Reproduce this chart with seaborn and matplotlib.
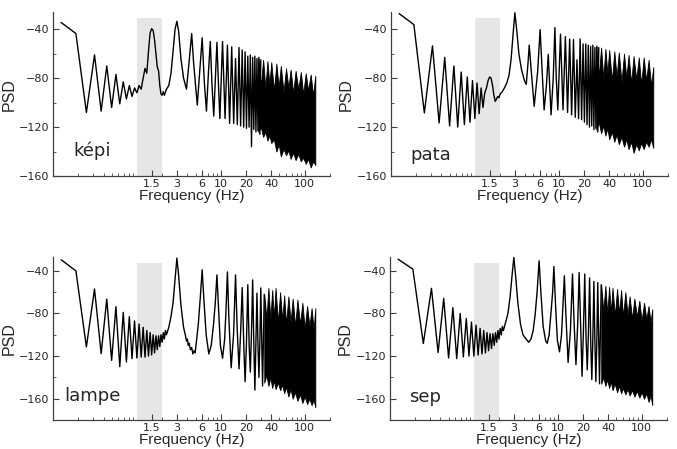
import numpy as np
import pandas as pd
import matplotlib
matplotlib.use("Agg")
import matplotlib.pyplot as plt
import seaborn as sns
from matplotlib.ticker import FixedLocator, LogLocator, MultipleLocator, NullFormatter

# frequency bins below 1 Hz (shared by all four words)
low_f = [0.125, 0.1875, 0.25, 0.3125, 0.375, 0.4375, 0.5, 0.5625,
         0.625, 0.6875, 0.75, 0.8125, 0.875, 0.9375, 1.0]

# ---- képi ----
kepi_low = [-34.5, -43.5, -108, -61, -107, -70, -104, -77, -101, -83, -97, -86, -95, -88, -92]
kepi_f = [1.0625, 1.125, 1.1875, 1.25, 1.3125, 1.375, 1.4375, 1.5,
          1.5625, 1.625, 1.6875, 1.75, 1.8125, 1.875, 1.9375, 2.0,
          2.0625, 2.125, 2.25, 2.4, 2.55, 2.7, 2.85, 3.0,
          3.15, 3.35, 3.6, 3.9, 4.2, 4.5, 4.75, 5.25,
          5.7, 6.0, 6.35, 6.75, 7.15, 7.5, 7.85, 8.25,
          8.65, 9.0, 9.35, 9.75,
          10.5, 11.25, 12.0, 12.75, 13.5, 14.25, 15.0, 15.75,
          16.5, 17.25, 18.0, 18.75, 19.5, 20.25, 21.0, 21.75,
          22.5, 23.25, 24.0, 24.75, 25.5, 26.25, 27.0, 27.75,
          28.5, 29.25, 30.0]
kepi_psd = [-86, -89, -80, -72, -76, -58, -43, -39.5,
            -41, -49, -60, -71, -74, -86, -93, -94,
            -91, -94, -89, -86, -76, -58, -40, -33.5,
            -42, -64, -80, -89, -66, -43.5, -68, -102,
            -68, -47, -82, -107, -74, -50, -85, -111,
            -78, -50.7, -82, -113,
            -50, -113, -53, -117, -54.4, -117, -64, -118,
            -55, -119, -57, -120, -58.5, -121, -62, -120,
            -61, -136, -63, -122, -62, -124, -64, -123,
            -63, -126, -65]

# ---- pata ----
pata_low = [-27.2, -36.2, -108.4, -53.6, -116.6, -63, -119, -70, -120, -75, -118, -79, -116, -82, -113]
pata_f = [1.0625, 1.125, 1.1875, 1.25, 1.3125, 1.375, 1.4375, 1.5,
          1.5625, 1.625, 1.6875, 1.75, 1.8125, 1.875, 1.9375, 2.0,
          2.125, 2.25, 2.4, 2.55, 2.7, 2.85, 3.0,
          3.15, 3.35, 3.6, 3.9, 4.1, 4.3, 4.45, 4.65,
          5.1, 5.6, 6.0, 6.35, 6.7, 7.15, 7.5, 7.85,
          8.1, 8.6, 9.0, 9.35, 9.75,
          10.5, 11.25, 12.0, 12.75, 13.5, 14.25, 15.0, 15.75,
          16.5, 17.25, 18.0, 18.75, 19.5, 20.25, 21.0, 21.75,
          22.5, 23.25, 24.0, 24.75, 25.5, 26.25, 27.0, 27.75,
          28.5, 29.25, 30.0]
pata_psd = [-84, -109, -88, -104, -92, -88, -82, -79,
            -80, -86, -94, -99, -97, -95, -96, -93,
            -91, -88, -84, -78, -65, -45, -26.5,
            -40, -60, -73, -82, -85, -68, -53, -70,
            -103, -75, -40.3, -75, -106, -85, -60.4, -90,
            -110, -80, -38.6, -80, -106,
            -44, -106, -46, -108, -48, -110, -48.5, -112,
            -65, -113, -48, -114, -52, -116, -52, -118,
            -53, -120, -54, -119, -53, -122, -55, -121,
            -54, -124, -55]

# ---- lampe ----
lampe_low = [-29.6, -40, -111.4, -57, -117.7, -66.4, -124, -73.6, -130, -79, -125.5, -83, -122.4, -87, -121.8]
lampe_f = [1.0625, 1.125, 1.1875, 1.25, 1.3125, 1.375, 1.4375, 1.5,
           1.5625, 1.625, 1.6875, 1.75, 1.8125, 1.875, 1.9375, 2.0,
           2.0625, 2.125, 2.1875, 2.25, 2.4, 2.55, 2.7, 2.85,
           3.0, 3.15, 3.35, 3.6, 3.8, 3.9, 4.0, 4.1,
           4.2, 4.35, 4.5, 4.65, 4.8, 4.95, 5.1, 5.4,
           5.7, 6.0, 6.3, 6.7, 7.2, 7.7, 8.2, 8.6,
           9.0, 9.4, 9.9, 10.5, 11.1, 11.5, 12.0, 12.5,
           13.3, 14.2, 15.0, 15.7, 16.5, 17.3, 18.0, 18.9,
           19.5, 20.2, 21.0, 21.8, 22.5, 23.2, 24.0, 24.8,
           25.5, 26.2, 27.0, 27.8, 28.5, 29.2, 30.0, 31.5,
           33.0]
lampe_psd = [-90, -121, -93, -121, -96, -120, -98, -119,
             -100, -117, -101, -114, -101, -111, -100, -107,
             -98, -104, -96, -100, -93, -83, -70, -48,
             -28, -45, -72, -93, -101, -106, -104, -110,
             -108, -114, -112, -118, -115, -117, -108, -90,
             -65, -39, -68, -100, -118, -110, -90, -70,
             -43.8, -75, -110, -122, -105, -80, -41, -85,
             -131, -100, -43.8, -95, -132, -95, -55.7, -115,
             -144, -110, -53, -110, -135, -100, -48.5, -110,
             -152, -110, -61, -110, -140, -110, -56, -148,
             -62]

# ---- sep ----
sep_low = [-29, -38.4, -108.2, -56.4, -116.7, -65.8, -121.8, -74.6, -122.4, -80, -120.8, -84.7, -120, -88, -120]
sep_f = [1.0625, 1.125, 1.1875, 1.25, 1.3125, 1.375, 1.4375, 1.5,
         1.5625, 1.625, 1.6875, 1.75, 1.8125, 1.875, 1.9375, 2.0,
         2.0625, 2.125, 2.1875, 2.25,
         2.4, 2.55, 2.7, 2.85, 3.0, 3.15, 3.35, 3.6,
         3.85, 4.2, 4.5, 4.8, 5.1, 5.4, 5.7, 6.0,
         6.3, 6.7, 7.2, 7.5, 7.9, 8.3, 8.7, 9.0,
         9.4, 9.9, 10.5, 11.1, 11.5, 12.0, 12.5, 13.3,
         14.2, 15.0, 15.7, 16.5, 17.3, 18.0, 18.9, 19.5,
         20.2, 21.0, 21.8, 22.5, 23.2, 24.0, 24.8, 25.5,
         26.2, 27.0, 27.8, 28.5, 29.2, 30.0, 31.5, 33.0]
sep_psd = [-91, -119, -94, -118, -96, -117, -98, -115,
           -99, -113, -99, -110, -98, -107, -96, -104,
           -94, -100, -92, -96,
           -88, -80, -65, -45, -27.4, -45, -70, -90,
           -100, -104, -107, -104, -96, -80, -58, -30.6,
           -60, -92, -106, -108, -100, -80, -60, -36,
           -70, -105, -116, -100, -75, -44.7, -80, -126,
           -95, -43, -90, -128, -90, -41.6, -100, -139,
           -100, -43, -105, -133, -100, -46.7, -110, -142,
           -105, -50, -110, -144, -110, -51, -146, -53]

# dense high-frequency part: top and bottom edges of the black mass
band_f_a = [28, 30, 32, 34, 36, 38, 40, 43, 46, 49, 52, 56, 60, 64, 68,
            73, 78, 84, 90, 96, 103, 110, 118, 126, 134]
band_f_b = [33, 35, 37, 39, 41, 43, 45, 48, 51, 54, 57, 60, 64, 68, 72,
            77, 82, 88, 94, 100, 107, 114, 121, 128, 134]

kepi_hi = [-64, -86, -65, -88, -66, -85, -67, -90, -68, -87, -70, -91, -72, -88, -73,
           -92, -74, -89, -75, -93, -76, -90, -77, -94, -78]
kepi_lo = [-124, -120, -128, -124, -131, -127, -133, -130, -140, -134, -144, -138, -143, -139, -146,
           -141, -147, -142, -148, -145, -150, -146, -153, -148, -151]
pata_hi = [-54, -78, -55, -80, -56, -76, -57, -82, -58, -79, -59, -83, -60, -80, -61,
           -84, -62, -81, -63, -85, -63, -82, -65, -86, -71]
pata_lo = [-122, -116, -125, -119, -127, -121, -130, -124, -132, -126, -134, -128, -136, -130, -138,
           -132, -141, -134, -139, -133, -138, -132, -136, -130, -137]
lampe_hi = [-62, -85, -56, -86, -58, -84, -56, -88, -60, -86, -63, -90, -64, -88, -66,
            -92, -67, -90, -70, -94, -73, -92, -75, -95, -75]
lampe_lo = [-145, -138, -148, -140, -150, -143, -151, -145, -152, -147, -155, -149, -158, -151, -160,
            -154, -162, -156, -164, -158, -165, -160, -166, -161, -168]
sep_hi = [-53, -78, -54, -80, -55, -79, -56, -82, -57, -80, -58, -83, -60, -81, -64,
          -85, -66, -83, -68, -87, -70, -85, -73, -88, -76]
sep_lo = [-146, -140, -148, -142, -150, -144, -152, -146, -154, -148, -155, -150, -156, -151, -157,
          -152, -158, -153, -159, -154, -160, -155, -163, -157, -166]

xticks = [1.5, 3, 6, 10, 20, 40, 100]
xtick_labels = ["1.5", "3", "6", "10", "20", "40", "100"]
yticks = [-40, -80, -120, -160]

sns.set_style("ticks")
plt.rcParams["font.family"] = ["DejaVu Sans"]

fig = plt.figure(figsize=(6.77, 4.49), dpi=100)

panels = [
    ("képi", kepi_low, kepi_f, kepi_psd, band_f_a, kepi_hi, kepi_lo,
     (-160, -26), -31, [0.0783, 0.608, 0.409, 0.365], (0.075, 0.12)),
    ("pata", pata_low, pata_f, pata_psd, band_f_a, pata_hi, pata_lo,
     (-160, -26), -31, [0.5775, 0.608, 0.409, 0.365], (0.07, 0.10)),
    ("lampe", lampe_low, lampe_f, lampe_psd, band_f_b, lampe_hi, lampe_lo,
     (-180, -27), -32.5, [0.0783, 0.0646, 0.409, 0.363], (0.04, 0.115)),
    ("sep", sep_low, sep_f, sep_psd, band_f_b, sep_hi, sep_lo,
     (-180, -27), -32.5, [0.5760, 0.0646, 0.409, 0.363], (0.07, 0.11)),
]

for word, low, f, psd, bf, hi, lo, ylim, span_top, pos, txt in panels:
    ax = fig.add_axes(pos)
    ax.set_xscale("log")
    # grey band marking 1-2 Hz
    ax.fill_between([1, 2], ylim[0], span_top, color="#e6e6e6", lw=0, zorder=0)
    df = pd.DataFrame({"Frequency": low_f + f, "PSD": low + psd})
    sns.lineplot(data=df, x="Frequency", y="PSD", ax=ax, color="k", lw=1.0,
                 sort=False, estimator=None)
    ax.fill_between(bf, lo, hi, color="k", lw=0.6, zorder=2)
    ax.set_xlim(0.1, 200)
    ax.set_ylim(ylim)
    ax.xaxis.set_major_locator(FixedLocator(xticks))
    ax.set_xticklabels(xtick_labels)
    ax.xaxis.set_minor_locator(LogLocator(base=10, subs=np.arange(2, 10)))
    ax.xaxis.set_minor_formatter(NullFormatter())
    ax.yaxis.set_major_locator(FixedLocator(yticks))
    ax.yaxis.set_minor_locator(MultipleLocator(20))
    ax.tick_params(which="major", direction="in", length=4, width=0.8, pad=2.5,
                   labelsize=8, colors="0.25", labelcolor="0.15")
    ax.tick_params(which="minor", direction="in", length=2.5, width=0.6, colors="0.25")
    for s in ["left", "bottom"]:
        ax.spines[s].set_color("0.25")
        ax.spines[s].set_linewidth(0.9)
    sns.despine(ax=ax)
    ax.set_xlabel("Frequency (Hz)", fontsize=11, family="Liberation Sans", labelpad=0)
    ax.set_ylabel("PSD", fontsize=11.5, family="Liberation Sans", labelpad=2)
    ax.text(txt[0], txt[1], word, transform=ax.transAxes, fontsize=13, va="baseline")

fig.savefig("out.png", dpi=100)
